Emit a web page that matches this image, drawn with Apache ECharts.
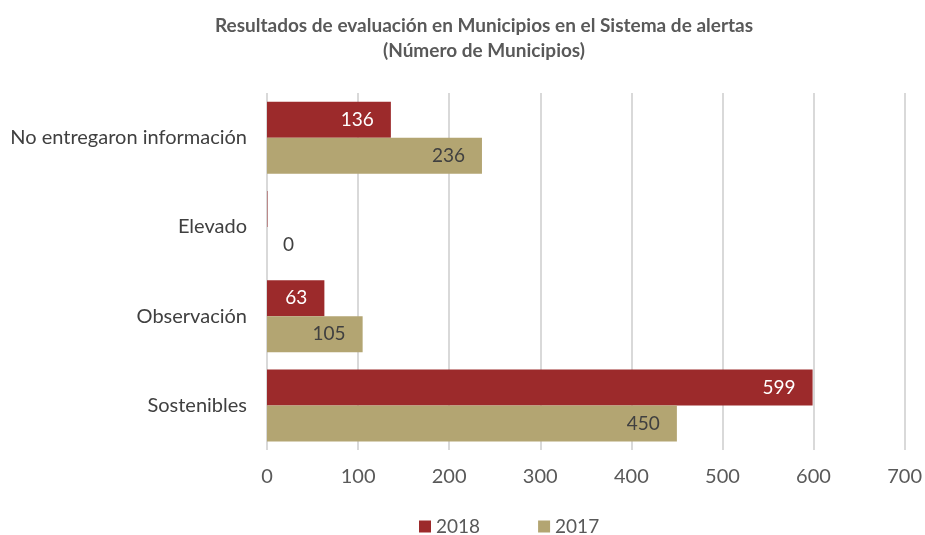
<!DOCTYPE html>
<html>
<head>
<meta charset="utf-8">
<script src="https://cdn.jsdelivr.net/npm/echarts@6/dist/echarts.min.js"></script>
<style>
  html, body { margin: 0; padding: 0; background: #fff; }
  #chart { width: 925px; height: 535px; }
</style>
</head>
<body>
<div id="chart"></div>
<script>
// categorias de arriba hacia abajo
let categorias = ['No entregaron información', 'Elevado', 'Observación', 'Sostenibles'];
let valores2018 = [136, 1, 63, 599];
let valores2017 = [236, 0, 105, 450];

let fuente = 'Lato';

function datos(valores) {
    return valores.map(function (v, i) {
        let item = { value: v };
        if (v <= 1 && categorias[i] === 'Elevado') {
            if (v === 0) {
                item.label = { position: 'right', color: '#404040', distance: 16 };
            } else {
                item.label = { show: false };
                item.itemStyle = { opacity: 0.5 };
            }
        }
        return item;
    });
}

let option = {
    backgroundColor: '#fff',
    animation: false,
    title: {
        text: 'Resultados de evaluación en Municipios en el Sistema de alertas\n(Número de Municipios)',
        left: 479,
        top: 8,
        textAlign: 'center',
        textStyle: {
            fontFamily: fuente,
            fontSize: 19,
            fontWeight: 'bold',
            color: '#595959',
            lineHeight: 25
        }
    },
    legend: {
        bottom: -6,
        left: 414,
        itemWidth: 12,
        itemHeight: 12,
        itemGap: 58,
        icon: 'rect',
        data: ['2018', '2017'],
        textStyle: { fontFamily: fuente, fontSize: 19, color: '#595959' }
    },
    grid: {
        left: 267,
        right: 16,
        top: 93,
        bottom: 85
    },
    xAxis: {
        type: 'value',
        min: 0,
        max: 700,
        interval: 100,
        axisLine: { show: false },
        axisTick: { show: false },
        splitLine: { lineStyle: { color: '#d9d9d9', width: 2 } },
        axisLabel: { fontFamily: fuente, fontSize: 20, color: '#595959', margin: 17 }
    },
    yAxis: {
        type: 'category',
        inverse: true,
        data: categorias,
        axisLine: { show: false },
        axisTick: { show: false },
        axisLabel: { fontFamily: fuente, fontSize: 20, color: '#404040', margin: 20 }
    },
    series: [
        {
            name: '2018',
            type: 'bar',
            barWidth: 36,
            barGap: '0%',
            itemStyle: { color: '#9c2a2b' },
            label: {
                show: true,
                position: 'insideRight',
                distance: 17,
                color: '#fff',
                fontFamily: fuente,
                fontSize: 19
            },
            data: datos(valores2018)
        },
        {
            name: '2017',
            type: 'bar',
            barWidth: 36,
            barGap: '0%',
            itemStyle: { color: '#b3a572' },
            label: {
                show: true,
                position: 'insideRight',
                distance: 17,
                color: '#404040',
                fontFamily: fuente,
                fontSize: 19
            },
            data: datos(valores2017)
        }
    ]
};

var dom = document.getElementById('chart');
var myChart = echarts.init(dom);
myChart.setOption(option, true);
</script>
</body>
</html>
